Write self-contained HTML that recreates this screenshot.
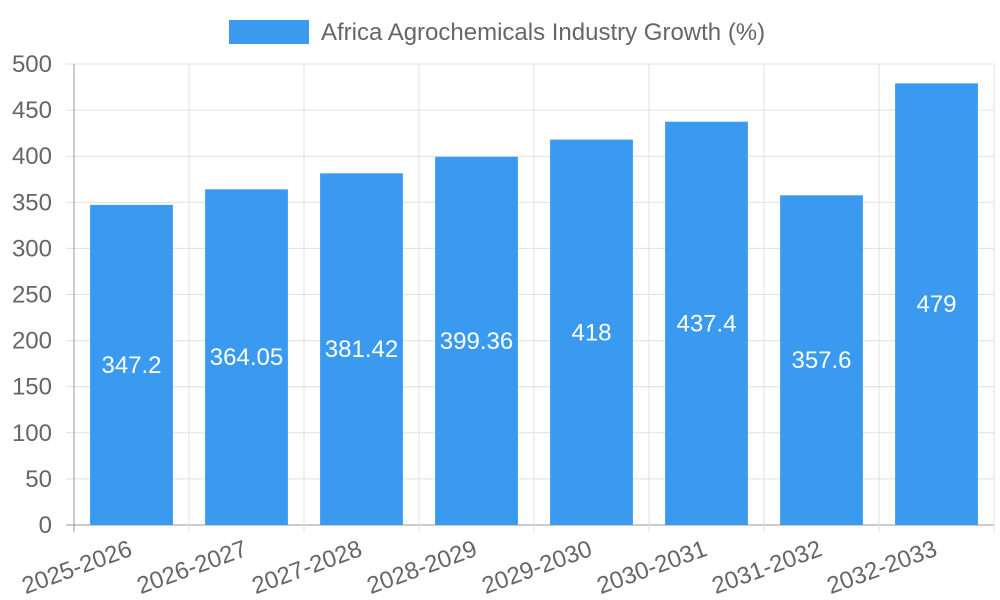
<!DOCTYPE html>
<html><head><meta charset="utf-8"><style>
html,body{margin:0;padding:0;background:#fff;width:1000px;height:600px;overflow:hidden}
svg{display:block;font-family:"Liberation Sans",sans-serif}
</style></head><body>
<svg id="chart" width="1000" height="600">
<g id="legend">
<rect x="229" y="20" width="80" height="24" fill="#3a9af0"/>
<text x="321" y="40" font-size="24" fill="#666">Africa Agrochemicals Industry Growth (%)</text>
</g>
<g id="grid"></g><g id="bars"></g><g id="axes"></g>
</svg>
<script>
const categories=["2025-2026","2026-2027","2027-2028","2028-2029","2029-2030","2030-2031","2031-2032","2032-2033"];
const values=[347.2,364.05,381.42,399.36,418,437.4,357.6,479];
const valueLabels=["347.2","364.05","381.42","399.36","418","437.4","357.6","479"];
const yTicks=[0,50,100,150,200,250,300,350,400,450,500];
const L=74,R=994,T=64,B=525,yMax=500;
const bw=(R-L)/categories.length;
const y=v=>B-(v/yMax)*(B-T);
const xc=i=>L+bw*(i+0.5);
const NS="http://www.w3.org/2000/svg";
function mk(p,t,a,txt){const e=document.createElementNS(NS,t);for(const k in a)e.setAttribute(k,a[k]);if(txt!==undefined)e.textContent=txt;p.appendChild(e);return e;}
const grid=document.getElementById('grid'),bars=document.getElementById('bars'),axes=document.getElementById('axes');
yTicks.forEach(t=>{
 const ln=mk(grid,'line',{x1:L-8,x2:R,y1:y(t),y2:y(t),stroke:t===0?'#999':'#e0e0e0','stroke-width':1});
 
 
 const tx=mk(axes,'text',{x:52,y:y(t)+8,'text-anchor':'end','font-size':24,fill:'#666'},String(t));
 
 
});
for(let i=0;i<=categories.length;i++){
 const x=L+bw*i;
 const ln=mk(grid,'line',{x1:x,x2:x,y1:T,y2:B+7,stroke:i===0?'#999':'#e0e0e0','stroke-width':1});
 
 
}
categories.forEach((c,i)=>{
 const w=bw*0.72,x=xc(i)-w/2;
 const r=mk(bars,'rect',{x:x,y:y(values[i]),width:w,height:B-y(values[i]),fill:'#3a9af0'});
 
 
 const vl=mk(bars,'text',{x:xc(i),y:(y(values[i])+B)/2+8,'text-anchor':'middle','font-size':24,fill:'#fff'},valueLabels[i]);
 
 
 const tl=mk(axes,'text',{transform:`translate(${xc(i)+2},${B+30}) rotate(-20)`,'text-anchor':'end','font-size':24,fill:'#666'},c);
 
 
});
</script>
</body></html>
